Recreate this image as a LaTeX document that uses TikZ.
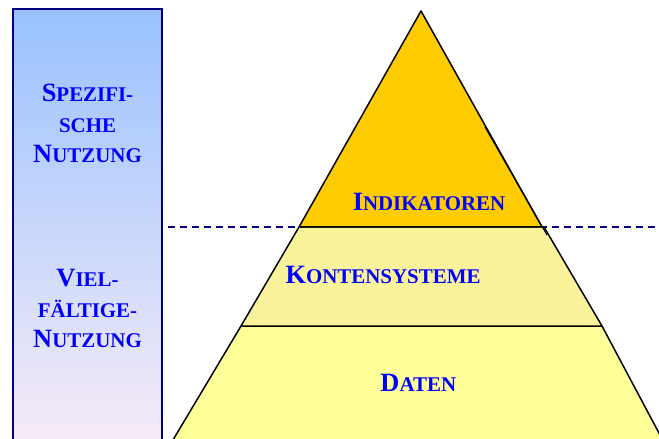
\documentclass[tikz,border=0pt]{standalone}
\usepackage{fontspec}
\setmainfont{Liberation Serif}
\definecolor{barnavy}{RGB}{0,0,128}
\definecolor{lblblue}{RGB}{0,0,250}
\definecolor{topgold}{RGB}{255,204,0}
\definecolor{midyellow}{RGB}{250,243,155}
\definecolor{lowyellow}{RGB}{255,255,153}
\newcommand{\Kap}[2]{{\fontsize{26.5}{30.5}\selectfont #1}{\fontsize{21}{30.5}\selectfont #2}}
\begin{document}
\begin{tikzpicture}[x=1bp,y=-1bp,
    lbl/.style={text=lblblue,font=\bfseries\fontsize{21}{30.5}\selectfont,anchor=base,inner sep=0pt,align=center},
    band/.style={draw=black,line width=1.5bp,line join=round}]
  \useasboundingbox (0,0) rectangle (659,439);
  \clip (0,0) rectangle (659,439);
  % left bar
  \shade[top color={rgb,255:red,153;green,194;blue,255},middle color={rgb,255:red,192;green,218;blue,248},
    bottom color={rgb,255:red,253;green,238;blue,247}] (13,9) rectangle (162,470);
  \draw[barnavy,line width=1.8bp] (13,9) rectangle (162,470);
  \node[lbl] (spez) at (87.5,162.7) {\Kap{S}{PEZIFI-}\\\Kap{}{SCHE}\\\Kap{N}{UTZUNG}};
  \node[lbl] (viel) at (87.5,347.7) {\Kap{V}{IEL-}\\\Kap{}{FÄLTIGE-}\\\Kap{N}{UTZUNG}};
  % dashed border line
  \draw[barnavy,line width=1.4bp,dash pattern=on 7bp off 5bp] (168,227) -- (659,227);
  % pyramid
  \filldraw[band,fill=lowyellow] (241,326) -- (602,326) -- (668,450) -- (167,450) -- cycle;
  \filldraw[band,fill=midyellow] (299,227) -- (544,227) -- (602,326) -- (241,326) -- cycle;
  \filldraw[band,fill=topgold] (421,11) -- (542,227) -- (299,227) -- cycle;
  \draw[line width=1.1bp] (485,127) -- (547,235);
  \node[lbl] (ind) at (429,211) {\Kap{I}{NDIKATOREN}};
  \node[lbl] (kont) at (383,283.3) {\Kap{K}{ONTENSYSTEME}};
  \node[lbl] (dat) at (418.3,391.7) {\Kap{D}{ATEN}};
\end{tikzpicture}
\end{document}
